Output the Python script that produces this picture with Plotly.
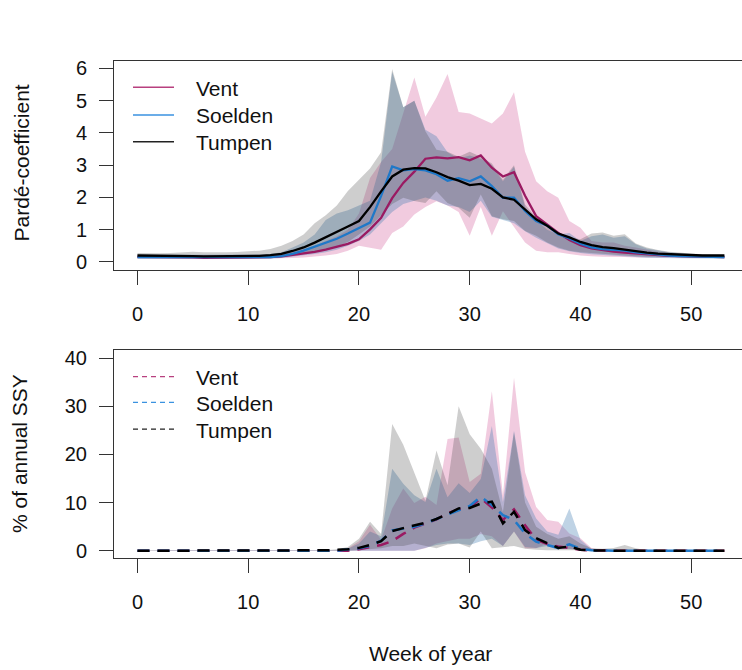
import plotly.graph_objects as go

weeks = list(range(0, 54))

# ---- Top panel: Pardé-coefficient (median lines) ----
vent_pc = [0.16, 0.16, 0.15, 0.15, 0.14, 0.14, 0.13, 0.13, 0.13, 0.13, 0.13, 0.14, 0.15, 0.17,
           0.21, 0.26, 0.31, 0.38, 0.46, 0.56, 0.70, 1.01, 1.37, 1.98, 2.45, 2.80, 3.20, 3.24,
           3.21, 3.25, 3.15, 3.30, 2.92, 2.65, 2.78, 2.05, 1.42, 1.17, 0.90, 0.68, 0.52, 0.42,
           0.36, 0.32, 0.29, 0.26, 0.23, 0.21, 0.19, 0.18, 0.17, 0.16, 0.15, 0.15]
soelden_pc = [0.15, 0.15, 0.15, 0.15, 0.14, 0.14, 0.14, 0.14, 0.14, 0.14, 0.14, 0.14, 0.15, 0.18,
              0.25, 0.35, 0.47, 0.60, 0.72, 0.88, 1.06, 1.22, 2.05, 2.96, 2.84, 2.88, 2.84, 2.72,
              2.52, 2.60, 2.50, 2.65, 2.35, 1.99, 1.99, 1.58, 1.27, 1.12, 0.86, 0.73, 0.57, 0.45,
              0.40, 0.38, 0.35, 0.30, 0.26, 0.23, 0.20, 0.18, 0.17, 0.16, 0.15, 0.15]
tumpen_pc = [0.20, 0.20, 0.19, 0.19, 0.18, 0.18, 0.17, 0.17, 0.17, 0.17, 0.18, 0.19, 0.21, 0.25,
             0.34, 0.45, 0.60, 0.76, 0.92, 1.10, 1.27, 1.70, 2.19, 2.65, 2.86, 2.91, 2.90, 2.78,
             2.63, 2.52, 2.38, 2.42, 2.27, 2.00, 1.93, 1.63, 1.32, 1.12, 0.88, 0.76, 0.62, 0.52,
             0.46, 0.43, 0.38, 0.33, 0.29, 0.26, 0.24, 0.22, 0.21, 0.20, 0.20, 0.20]

# ---- Top panel: bands (upper / lower) ----
vent_pc_hi = [0.20, 0.20, 0.20, 0.20, 0.20, 0.20, 0.20, 0.20, 0.20, 0.20, 0.20, 0.21, 0.22, 0.25,
              0.32, 0.40, 0.50, 0.65, 0.80, 1.00, 1.50, 2.60, 3.10, 3.50, 4.60, 5.72, 4.50, 5.10,
              5.83, 4.65, 4.60, 4.44, 4.29, 4.60, 5.26, 3.42, 2.50, 2.19, 1.99, 1.27, 1.06, 0.65,
              0.60, 0.60, 0.50, 0.45, 0.38, 0.32, 0.28, 0.25, 0.23, 0.21, 0.20, 0.20]
vent_pc_lo = [0.10, 0.10, 0.10, 0.10, 0.10, 0.10, 0.10, 0.10, 0.10, 0.10, 0.10, 0.10, 0.10, 0.11,
              0.12, 0.14, 0.16, 0.20, 0.25, 0.35, 0.50, 0.45, 0.38, 0.90, 1.10, 1.47, 1.70, 1.88,
              1.75, 1.55, 0.81, 1.70, 0.81, 1.57, 1.10, 0.60, 0.35, 0.30, 0.30, 0.25, 0.20, 0.18,
              0.16, 0.15, 0.15, 0.14, 0.14, 0.13, 0.13, 0.12, 0.12, 0.12, 0.12, 0.12]
soelden_pc_hi = [0.22, 0.22, 0.22, 0.22, 0.22, 0.22, 0.22, 0.22, 0.22, 0.22, 0.22, 0.23, 0.25, 0.30,
                 0.45, 0.60, 0.85, 1.30, 1.50, 1.60, 1.75, 1.90, 3.10, 5.90, 4.80, 5.00, 4.10, 3.90,
                 3.40, 3.20, 3.30, 3.20, 3.00, 2.50, 2.95, 1.70, 1.30, 1.00, 0.85, 0.90, 0.65, 0.80,
                 0.85, 0.75, 0.80, 0.55, 0.42, 0.35, 0.30, 0.27, 0.24, 0.22, 0.21, 0.20]
soelden_pc_lo = [0.10, 0.10, 0.10, 0.10, 0.10, 0.10, 0.10, 0.10, 0.10, 0.10, 0.10, 0.10, 0.11, 0.12,
                 0.15, 0.20, 0.25, 0.30, 0.38, 0.50, 0.65, 0.85, 1.20, 1.55, 1.80, 1.90, 2.00, 1.90,
                 1.75, 1.70, 1.55, 1.90, 1.40, 1.30, 1.20, 0.95, 0.75, 0.58, 0.42, 0.33, 0.28, 0.24,
                 0.21, 0.19, 0.17, 0.15, 0.13, 0.12, 0.11, 0.11, 0.10, 0.10, 0.10, 0.10]
tumpen_pc_hi = [0.28, 0.27, 0.27, 0.28, 0.30, 0.32, 0.30, 0.29, 0.30, 0.31, 0.33, 0.35, 0.40, 0.50,
                0.65, 0.85, 1.20, 1.45, 1.75, 2.20, 2.55, 2.90, 3.40, 5.98, 4.80, 5.00, 4.05, 3.48,
                3.42, 3.26, 3.42, 3.26, 3.05, 2.55, 3.00, 1.78, 1.37, 1.06, 0.88, 0.76, 0.70, 0.88,
                0.91, 0.81, 0.86, 0.57, 0.45, 0.37, 0.32, 0.28, 0.26, 0.24, 0.23, 0.22]
tumpen_pc_lo = [0.12, 0.12, 0.12, 0.12, 0.12, 0.12, 0.12, 0.12, 0.12, 0.12, 0.12, 0.12, 0.13, 0.15,
                0.20, 0.25, 0.30, 0.38, 0.48, 0.62, 0.85, 1.10, 1.45, 1.80, 1.99, 1.89, 1.83, 2.19,
                1.83, 1.68, 1.37, 2.09, 1.42, 1.32, 1.27, 0.96, 0.81, 0.60, 0.45, 0.35, 0.30, 0.26,
                0.24, 0.22, 0.20, 0.18, 0.16, 0.15, 0.15, 0.14, 0.14, 0.14, 0.14, 0.14]

# ---- Bottom panel: % of annual SSY (median lines) ----
vent_ssy = [0.0] * 20 + [0.3, 0.8, 1.2, 2.0, 3.5, 4.8, 5.6, 6.5, 7.8, 8.6, 9.0, 10.9, 9.0, 6.4,
                         8.6, 5.3, 2.3, 1.4, 0.9, 0.56, 0.2, 0.05] + [0.0] * 12
soelden_ssy = [0.0] * 19 + [0.3, 0.5, 1.0, 2.1, 4.2, 4.6, 5.0, 5.7, 6.6, 7.6, 8.5, 9.3, 11.2, 9.5,
                            7.4, 6.4, 3.6, 1.9, 1.2, 0.56, 1.35, 0.4, 0.1] + [0.0] * 12
tumpen_ssy = [0.0] * 17 + [0.1, 0.2, 0.3, 0.6, 1.2, 2.0, 4.1, 4.7, 5.3, 5.8, 6.6, 7.6, 8.8, 8.9,
                           9.8, 10.2, 5.7, 8.1, 4.3, 2.6, 1.6, 0.6, 0.9, 0.2, 0.07] + [0.0] * 12

# ---- Bottom panel: bands ----
vent_ssy_hi = [0.1] * 19 + [0.5, 2.0, 5.4, 2.3, 8.8, 12.9, 9.9, 11.2, 9.5, 23.2, 23.5, 14.3, 16.0,
                            33.1, 11.5, 35.9, 16.3, 9.1, 6.4, 6.0, 3.6, 2.6, 0.6] + [0.1] * 12
vent_ssy_lo = [0.0] * 23 + [0.5, 1.5, 2.0, 2.5, 2.5, 3.5, 3.0, 1.0, 4.0, 0.5, 0.5, 1.5, 0.5, 0.3,
                            0.2, 0.1] + [0.0] * 12
soelden_ssy_hi = [0.1] * 19 + [0.4, 1.5, 4.0, 3.0, 17.0, 13.9, 11.5, 10.1, 17.0, 11.1, 14.0, 12.0,
                               14.9, 25.9, 10.1, 24.9, 11.5, 6.7, 4.0, 3.3, 8.8, 2.3, 0.3] + [0.1] * 12
soelden_ssy_lo = [0.0] * 23 + [0.6, 1.2, 1.5, 1.5, 1.2, 2.0, 2.5, 1.0, 4.0, 0.8, 0.6, 1.0, 0.5, 0.3,
                               0.2, 0.1] + [0.0] * 12
tumpen_ssy_hi = [0.1] * 18 + [0.3, 0.8, 2.5, 6.0, 3.5, 26.3, 22.0, 16.0, 10.4, 20.8, 13.6, 30.0,
                              24.2, 21.2, 17.0, 8.0, 24.6, 10.0, 5.0, 3.5, 2.5, 3.0, 1.5, 0.5, 0.4,
                              0.6, 1.2, 0.5] + [0.1] * 8
tumpen_ssy_lo = [0.0] * 20 + [0.1, 0.3, 0.5, 1.0, 1.0, 1.5, 1.0, 0.5, 1.3, 1.5, 0.7, 4.0, 0.5, 0.8,
                              1.0, 0.4, 0.2, 0.1] + [0.0] * 16

series = ["Vent", "Soelden", "Tumpen"]
line_colors = {"Vent": "#9A1A62", "Soelden": "#1F78C8", "Tumpen": "#000000"}
legend_colors = {"Vent": "#B8407F", "Soelden": "#3A92E0", "Tumpen": "#222222"}
fill_colors = {"Vent": "rgba(205,70,140,0.28)",
               "Soelden": "rgba(60,120,175,0.33)",
               "Tumpen": "rgba(60,60,60,0.25)"}

top_lines = {"Vent": vent_pc, "Soelden": soelden_pc, "Tumpen": tumpen_pc}
top_bands = {"Vent": (vent_pc_hi, vent_pc_lo), "Soelden": (soelden_pc_hi, soelden_pc_lo),
             "Tumpen": (tumpen_pc_hi, tumpen_pc_lo)}
bot_lines = {"Vent": vent_ssy, "Soelden": soelden_ssy, "Tumpen": tumpen_ssy}
bot_bands = {"Vent": (vent_ssy_hi, vent_ssy_lo), "Soelden": (soelden_ssy_hi, soelden_ssy_lo),
             "Tumpen": (tumpen_ssy_hi, tumpen_ssy_lo)}

fig = go.Figure()

for xa, ya, bands in (("x", "y", top_bands), ("x2", "y2", bot_bands)):
    for s in series:
        hi, lo = bands[s]
        fig.add_trace(go.Scatter(x=weeks + weeks[::-1], y=list(hi) + list(lo)[::-1],
                                 fill="toself", fillcolor=fill_colors[s], line=dict(width=0),
                                 mode="lines", xaxis=xa, yaxis=ya, showlegend=False,
                                 hoverinfo="skip"))

for s in series:
    fig.add_trace(go.Scatter(x=weeks, y=top_lines[s], mode="lines",
                             line=dict(color=line_colors[s], width=2.3),
                             xaxis="x", yaxis="y", showlegend=False))
for s in series:
    fig.add_trace(go.Scatter(x=weeks, y=bot_lines[s], mode="lines",
                             line=dict(color=line_colors[s], width=2.5, dash="12px,8px"),
                             xaxis="x2", yaxis="y2", showlegend=False))

W, H = 742, 670
L = 114
PW = W - L


def px(xp):
    return (xp - L) / PW


def py(yp):
    return 1 - yp / H


axis_common = dict(showline=True, linecolor="#333333", linewidth=1, ticks="outside",
                   ticklen=14, tickcolor="#333333", tickwidth=1, showgrid=False,
                   zeroline=False, tickfont=dict(size=20, color="#111111"))

xr = [-2.12, (W - 137.7) / 11.07]
fig.update_layout(
    width=W, height=H, autosize=False,
    margin=dict(l=L, r=0, t=0, b=0),
    paper_bgcolor="white", plot_bgcolor="white",
    font=dict(family="Liberation Sans, Arial, sans-serif", size=20, color="#111111"),
    xaxis=dict(domain=[0, 1], anchor="y", range=xr, tickvals=[0, 10, 20, 30, 40, 50],
               mirror=True, ticklabelstandoff=12, **axis_common),
    yaxis=dict(domain=[py(269.1), py(58.2)], anchor="x", range=[-0.24, 6.24],
               tickvals=[0, 1, 2, 3, 4, 5, 6], ticklabelstandoff=8, **axis_common),
    xaxis2=dict(domain=[0, 1], anchor="y2", range=xr, tickvals=[0, 10, 20, 30, 40, 50],
                mirror=True, ticklabelstandoff=12, **axis_common),
    yaxis2=dict(domain=[py(560.5), py(350.5)], anchor="x2", range=[-1.6, 41.6],
                tickvals=[0, 10, 20, 30, 40], ticklabelstandoff=8, **axis_common),
)

shapes = []
annotations = []
legend_rows = [(85, 113, 140), (377, 403, 430)]
for panel, rows in enumerate(legend_rows):
    for s, yy in zip(series, rows):
        shapes.append(dict(type="line", xref="paper", yref="paper",
                           x0=px(133), x1=px(174), y0=py(yy), y1=py(yy),
                           line=dict(color=legend_colors[s], width=1.3,
                                     dash="solid" if panel == 0 else "5px,4px")))
        annotations.append(dict(text=s, xref="paper", yref="paper", x=px(194), y=py(yy + 1),
                                xanchor="left", yanchor="middle", showarrow=False,
                                font=dict(size=21, color="#111111")))

annotations.append(dict(text="Pardé-coefficient", xref="paper", yref="paper",
                        x=px(22), y=py(162), textangle=-90, xanchor="center",
                        yanchor="middle", showarrow=False, font=dict(size=21, color="#111111")))
annotations.append(dict(text="% of annual SSY", xref="paper", yref="paper",
                        x=px(20), y=py(455), textangle=-90, xanchor="center",
                        yanchor="middle", showarrow=False, font=dict(size=21, color="#111111")))
annotations.append(dict(text="Week of year", xref="paper", yref="paper",
                        x=px(430), y=py(656), xanchor="center", yanchor="middle",
                        showarrow=False, font=dict(size=21, color="#111111")))

fig.update_layout(shapes=shapes, annotations=annotations)

fig.write_html("out.html")
